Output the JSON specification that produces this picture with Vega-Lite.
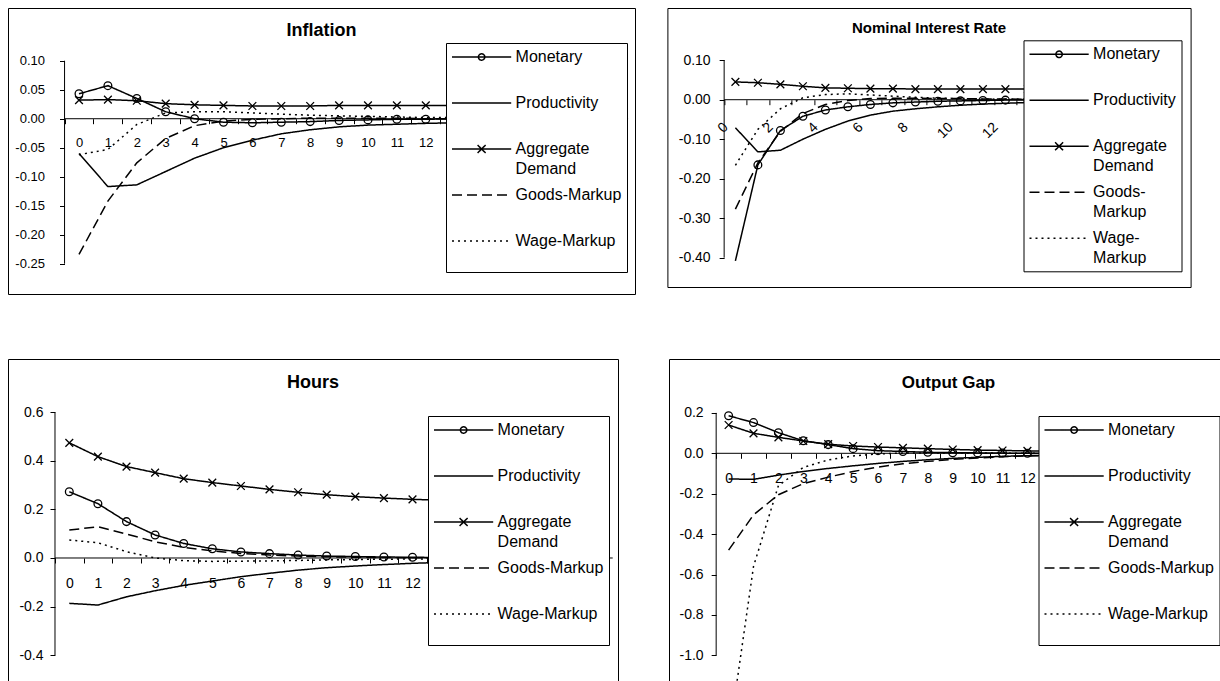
{
  "$schema": "https://vega.github.io/schema/vega-lite/v6.json",
  "background": "white",
  "padding": {"left": 7, "top": 7, "right": 0, "bottom": 0},
  "spacing": 63,
  "config": {
    "font": "Liberation Sans",
    "view": {"stroke": "black", "strokeWidth": 1},
    "axis": {"domain": false, "grid": false, "labelColor": "black", "labelFont": "Liberation Sans", "labelFontSize": 14, "tickColor": "black", "tickSize": 5, "tickWidth": 1, "labelOverlap": false, "labelFlush": false},
    "title": {"color": "black", "font": "Liberation Sans", "fontWeight": "bold", "anchor": "middle", "frame": "group", "baseline": "middle"},
    "legend": {"orient": "none", "fillColor": "white", "strokeColor": "black", "padding": 5, "gridAlign": "all", "rowPadding": 9, "symbolType": "M-3.7,0H3.7", "symbolSize": 256, "symbolStrokeWidth": 1.5, "symbolStrokeColor": "black", "symbolFillColor": "transparent", "symbolOffset": 21.6, "labelOffset": 25, "labelFont": "Liberation Sans", "labelFontSize": 16, "labelColor": "black", "labelLimit": 300}
  },
  "datasets": {
    "inflation": [
      {"t":0,"s":"Monetary","v":0.043},{"t":1,"s":"Monetary","v":0.057},{"t":2,"s":"Monetary","v":0.035},{"t":3,"s":"Monetary","v":0.012},{"t":4,"s":"Monetary","v":0.0},{"t":5,"s":"Monetary","v":-0.006},{"t":6,"s":"Monetary","v":-0.007},{"t":7,"s":"Monetary","v":-0.006},{"t":8,"s":"Monetary","v":-0.005},{"t":9,"s":"Monetary","v":-0.003},{"t":10,"s":"Monetary","v":-0.002},{"t":11,"s":"Monetary","v":-0.001},{"t":12,"s":"Monetary","v":-0.001},{"t":13,"s":"Monetary","v":0.0},{"t":14,"s":"Monetary","v":0.0},
      {"t":0,"s":"Productivity","v":-0.06},{"t":1,"s":"Productivity","v":-0.117},{"t":2,"s":"Productivity","v":-0.114},{"t":3,"s":"Productivity","v":-0.091},{"t":4,"s":"Productivity","v":-0.068},{"t":5,"s":"Productivity","v":-0.05},{"t":6,"s":"Productivity","v":-0.037},{"t":7,"s":"Productivity","v":-0.026},{"t":8,"s":"Productivity","v":-0.019},{"t":9,"s":"Productivity","v":-0.014},{"t":10,"s":"Productivity","v":-0.011},{"t":11,"s":"Productivity","v":-0.0095},{"t":12,"s":"Productivity","v":-0.008},{"t":13,"s":"Productivity","v":-0.007},{"t":14,"s":"Productivity","v":-0.006},
      {"t":0,"s":"Aggregate Demand","v":0.032},{"t":1,"s":"Aggregate Demand","v":0.033},{"t":2,"s":"Aggregate Demand","v":0.031},{"t":3,"s":"Aggregate Demand","v":0.026},{"t":4,"s":"Aggregate Demand","v":0.024},{"t":5,"s":"Aggregate Demand","v":0.023},{"t":6,"s":"Aggregate Demand","v":0.022},{"t":7,"s":"Aggregate Demand","v":0.022},{"t":8,"s":"Aggregate Demand","v":0.022},{"t":9,"s":"Aggregate Demand","v":0.023},{"t":10,"s":"Aggregate Demand","v":0.023},{"t":11,"s":"Aggregate Demand","v":0.023},{"t":12,"s":"Aggregate Demand","v":0.023},{"t":13,"s":"Aggregate Demand","v":0.023},{"t":14,"s":"Aggregate Demand","v":0.023},
      {"t":0,"s":"Goods-Markup","v":-0.234},{"t":1,"s":"Goods-Markup","v":-0.142},{"t":2,"s":"Goods-Markup","v":-0.076},{"t":3,"s":"Goods-Markup","v":-0.034},{"t":4,"s":"Goods-Markup","v":-0.012},{"t":5,"s":"Goods-Markup","v":-0.004},{"t":6,"s":"Goods-Markup","v":-0.001},{"t":7,"s":"Goods-Markup","v":0.0},{"t":8,"s":"Goods-Markup","v":0.001},{"t":9,"s":"Goods-Markup","v":0.001},{"t":10,"s":"Goods-Markup","v":0.001},{"t":11,"s":"Goods-Markup","v":0.001},{"t":12,"s":"Goods-Markup","v":0.0},{"t":13,"s":"Goods-Markup","v":0.0},{"t":14,"s":"Goods-Markup","v":0.0},
      {"t":0,"s":"Wage-Markup","v":-0.062},{"t":1,"s":"Wage-Markup","v":-0.053},{"t":2,"s":"Wage-Markup","v":-0.01},{"t":3,"s":"Wage-Markup","v":0.01},{"t":4,"s":"Wage-Markup","v":0.012},{"t":5,"s":"Wage-Markup","v":0.012},{"t":6,"s":"Wage-Markup","v":0.01},{"t":7,"s":"Wage-Markup","v":0.008},{"t":8,"s":"Wage-Markup","v":0.006},{"t":9,"s":"Wage-Markup","v":0.005},{"t":10,"s":"Wage-Markup","v":0.004},{"t":11,"s":"Wage-Markup","v":0.003},{"t":12,"s":"Wage-Markup","v":0.002},{"t":13,"s":"Wage-Markup","v":0.002},{"t":14,"s":"Wage-Markup","v":0.001}
    ],
    "nominal": [
      {"t":0,"s":"Monetary","v":-0.408},{"t":1,"s":"Monetary","v":-0.165},{"t":2,"s":"Monetary","v":-0.078},{"t":3,"s":"Monetary","v":-0.042},{"t":4,"s":"Monetary","v":-0.026},{"t":5,"s":"Monetary","v":-0.018},{"t":6,"s":"Monetary","v":-0.012},{"t":7,"s":"Monetary","v":-0.008},{"t":8,"s":"Monetary","v":-0.006},{"t":9,"s":"Monetary","v":-0.004},{"t":10,"s":"Monetary","v":-0.003},{"t":11,"s":"Monetary","v":-0.002},{"t":12,"s":"Monetary","v":-0.001},{"t":13,"s":"Monetary","v":-0.001},{"t":14,"s":"Monetary","v":-0.001},
      {"t":0,"s":"Productivity","v":-0.071},{"t":1,"s":"Productivity","v":-0.132},{"t":2,"s":"Productivity","v":-0.128},{"t":3,"s":"Productivity","v":-0.1},{"t":4,"s":"Productivity","v":-0.075},{"t":5,"s":"Productivity","v":-0.054},{"t":6,"s":"Productivity","v":-0.039},{"t":7,"s":"Productivity","v":-0.029},{"t":8,"s":"Productivity","v":-0.023},{"t":9,"s":"Productivity","v":-0.018},{"t":10,"s":"Productivity","v":-0.014},{"t":11,"s":"Productivity","v":-0.011},{"t":12,"s":"Productivity","v":-0.009},{"t":13,"s":"Productivity","v":-0.007},{"t":14,"s":"Productivity","v":-0.006},
      {"t":0,"s":"Aggregate Demand","v":0.045},{"t":1,"s":"Aggregate Demand","v":0.043},{"t":2,"s":"Aggregate Demand","v":0.039},{"t":3,"s":"Aggregate Demand","v":0.034},{"t":4,"s":"Aggregate Demand","v":0.03},{"t":5,"s":"Aggregate Demand","v":0.029},{"t":6,"s":"Aggregate Demand","v":0.028},{"t":7,"s":"Aggregate Demand","v":0.028},{"t":8,"s":"Aggregate Demand","v":0.027},{"t":9,"s":"Aggregate Demand","v":0.027},{"t":10,"s":"Aggregate Demand","v":0.027},{"t":11,"s":"Aggregate Demand","v":0.027},{"t":12,"s":"Aggregate Demand","v":0.027},{"t":13,"s":"Aggregate Demand","v":0.027},{"t":14,"s":"Aggregate Demand","v":0.027},
      {"t":0,"s":"Goods-Markup","v":-0.277},{"t":1,"s":"Goods-Markup","v":-0.16},{"t":2,"s":"Goods-Markup","v":-0.08},{"t":3,"s":"Goods-Markup","v":-0.035},{"t":4,"s":"Goods-Markup","v":-0.012},{"t":5,"s":"Goods-Markup","v":-0.002},{"t":6,"s":"Goods-Markup","v":0.003},{"t":7,"s":"Goods-Markup","v":0.004},{"t":8,"s":"Goods-Markup","v":0.004},{"t":9,"s":"Goods-Markup","v":0.003},{"t":10,"s":"Goods-Markup","v":0.003},{"t":11,"s":"Goods-Markup","v":0.002},{"t":12,"s":"Goods-Markup","v":0.002},{"t":13,"s":"Goods-Markup","v":0.001},{"t":14,"s":"Goods-Markup","v":0.001},
      {"t":0,"s":"Wage-Markup","v":-0.166},{"t":1,"s":"Wage-Markup","v":-0.075},{"t":2,"s":"Wage-Markup","v":-0.023},{"t":3,"s":"Wage-Markup","v":0.005},{"t":4,"s":"Wage-Markup","v":0.013},{"t":5,"s":"Wage-Markup","v":0.015},{"t":6,"s":"Wage-Markup","v":0.012},{"t":7,"s":"Wage-Markup","v":0.009},{"t":8,"s":"Wage-Markup","v":0.006},{"t":9,"s":"Wage-Markup","v":0.004},{"t":10,"s":"Wage-Markup","v":0.003},{"t":11,"s":"Wage-Markup","v":0.002},{"t":12,"s":"Wage-Markup","v":0.001},{"t":13,"s":"Wage-Markup","v":0.001},{"t":14,"s":"Wage-Markup","v":0.0}
    ],
    "hours": [
      {"t":0,"s":"Monetary","v":0.273},{"t":1,"s":"Monetary","v":0.224},{"t":2,"s":"Monetary","v":0.15},{"t":3,"s":"Monetary","v":0.095},{"t":4,"s":"Monetary","v":0.06},{"t":5,"s":"Monetary","v":0.038},{"t":6,"s":"Monetary","v":0.025},{"t":7,"s":"Monetary","v":0.018},{"t":8,"s":"Monetary","v":0.012},{"t":9,"s":"Monetary","v":0.008},{"t":10,"s":"Monetary","v":0.006},{"t":11,"s":"Monetary","v":0.004},{"t":12,"s":"Monetary","v":0.003},{"t":13,"s":"Monetary","v":0.002},{"t":14,"s":"Monetary","v":0.002},
      {"t":0,"s":"Productivity","v":-0.187},{"t":1,"s":"Productivity","v":-0.194},{"t":2,"s":"Productivity","v":-0.16},{"t":3,"s":"Productivity","v":-0.135},{"t":4,"s":"Productivity","v":-0.113},{"t":5,"s":"Productivity","v":-0.095},{"t":6,"s":"Productivity","v":-0.077},{"t":7,"s":"Productivity","v":-0.063},{"t":8,"s":"Productivity","v":-0.05},{"t":9,"s":"Productivity","v":-0.04},{"t":10,"s":"Productivity","v":-0.033},{"t":11,"s":"Productivity","v":-0.027},{"t":12,"s":"Productivity","v":-0.022},{"t":13,"s":"Productivity","v":-0.018},{"t":14,"s":"Productivity","v":-0.015},
      {"t":0,"s":"Aggregate Demand","v":0.475},{"t":1,"s":"Aggregate Demand","v":0.418},{"t":2,"s":"Aggregate Demand","v":0.377},{"t":3,"s":"Aggregate Demand","v":0.352},{"t":4,"s":"Aggregate Demand","v":0.327},{"t":5,"s":"Aggregate Demand","v":0.311},{"t":6,"s":"Aggregate Demand","v":0.297},{"t":7,"s":"Aggregate Demand","v":0.283},{"t":8,"s":"Aggregate Demand","v":0.271},{"t":9,"s":"Aggregate Demand","v":0.261},{"t":10,"s":"Aggregate Demand","v":0.253},{"t":11,"s":"Aggregate Demand","v":0.247},{"t":12,"s":"Aggregate Demand","v":0.242},{"t":13,"s":"Aggregate Demand","v":0.238},{"t":14,"s":"Aggregate Demand","v":0.234},
      {"t":0,"s":"Goods-Markup","v":0.115},{"t":1,"s":"Goods-Markup","v":0.129},{"t":2,"s":"Goods-Markup","v":0.099},{"t":3,"s":"Goods-Markup","v":0.067},{"t":4,"s":"Goods-Markup","v":0.044},{"t":5,"s":"Goods-Markup","v":0.029},{"t":6,"s":"Goods-Markup","v":0.019},{"t":7,"s":"Goods-Markup","v":0.012},{"t":8,"s":"Goods-Markup","v":0.008},{"t":9,"s":"Goods-Markup","v":0.005},{"t":10,"s":"Goods-Markup","v":0.003},{"t":11,"s":"Goods-Markup","v":0.002},{"t":12,"s":"Goods-Markup","v":0.001},{"t":13,"s":"Goods-Markup","v":0.001},{"t":14,"s":"Goods-Markup","v":0.0},
      {"t":0,"s":"Wage-Markup","v":0.074},{"t":1,"s":"Wage-Markup","v":0.063},{"t":2,"s":"Wage-Markup","v":0.026},{"t":3,"s":"Wage-Markup","v":0.0},{"t":4,"s":"Wage-Markup","v":-0.011},{"t":5,"s":"Wage-Markup","v":-0.014},{"t":6,"s":"Wage-Markup","v":-0.013},{"t":7,"s":"Wage-Markup","v":-0.012},{"t":8,"s":"Wage-Markup","v":-0.01},{"t":9,"s":"Wage-Markup","v":-0.008},{"t":10,"s":"Wage-Markup","v":-0.006},{"t":11,"s":"Wage-Markup","v":-0.005},{"t":12,"s":"Wage-Markup","v":-0.004},{"t":13,"s":"Wage-Markup","v":-0.003},{"t":14,"s":"Wage-Markup","v":-0.002}
    ],
    "gap": [
      {"t":0,"s":"Monetary","v":0.186},{"t":1,"s":"Monetary","v":0.152},{"t":2,"s":"Monetary","v":0.102},{"t":3,"s":"Monetary","v":0.062},{"t":4,"s":"Monetary","v":0.043},{"t":5,"s":"Monetary","v":0.023},{"t":6,"s":"Monetary","v":0.013},{"t":7,"s":"Monetary","v":0.009},{"t":8,"s":"Monetary","v":0.005},{"t":9,"s":"Monetary","v":0.003},{"t":10,"s":"Monetary","v":0.002},{"t":11,"s":"Monetary","v":0.001},{"t":12,"s":"Monetary","v":0.0},{"t":13,"s":"Monetary","v":0.0},{"t":14,"s":"Monetary","v":0.0},
      {"t":0,"s":"Productivity","v":-0.127},{"t":1,"s":"Productivity","v":-0.129},{"t":2,"s":"Productivity","v":-0.108},{"t":3,"s":"Productivity","v":-0.09},{"t":4,"s":"Productivity","v":-0.075},{"t":5,"s":"Productivity","v":-0.062},{"t":6,"s":"Productivity","v":-0.05},{"t":7,"s":"Productivity","v":-0.04},{"t":8,"s":"Productivity","v":-0.032},{"t":9,"s":"Productivity","v":-0.025},{"t":10,"s":"Productivity","v":-0.02},{"t":11,"s":"Productivity","v":-0.015},{"t":12,"s":"Productivity","v":-0.012},{"t":13,"s":"Productivity","v":-0.009},{"t":14,"s":"Productivity","v":-0.007},
      {"t":0,"s":"Aggregate Demand","v":0.14},{"t":1,"s":"Aggregate Demand","v":0.099},{"t":2,"s":"Aggregate Demand","v":0.079},{"t":3,"s":"Aggregate Demand","v":0.061},{"t":4,"s":"Aggregate Demand","v":0.045},{"t":5,"s":"Aggregate Demand","v":0.036},{"t":6,"s":"Aggregate Demand","v":0.031},{"t":7,"s":"Aggregate Demand","v":0.027},{"t":8,"s":"Aggregate Demand","v":0.023},{"t":9,"s":"Aggregate Demand","v":0.019},{"t":10,"s":"Aggregate Demand","v":0.016},{"t":11,"s":"Aggregate Demand","v":0.014},{"t":12,"s":"Aggregate Demand","v":0.012},{"t":13,"s":"Aggregate Demand","v":0.01},{"t":14,"s":"Aggregate Demand","v":0.009},
      {"t":0,"s":"Goods-Markup","v":-0.479},{"t":1,"s":"Goods-Markup","v":-0.305},{"t":2,"s":"Goods-Markup","v":-0.205},{"t":3,"s":"Goods-Markup","v":-0.15},{"t":4,"s":"Goods-Markup","v":-0.118},{"t":5,"s":"Goods-Markup","v":-0.09},{"t":6,"s":"Goods-Markup","v":-0.068},{"t":7,"s":"Goods-Markup","v":-0.052},{"t":8,"s":"Goods-Markup","v":-0.04},{"t":9,"s":"Goods-Markup","v":-0.03},{"t":10,"s":"Goods-Markup","v":-0.023},{"t":11,"s":"Goods-Markup","v":-0.017},{"t":12,"s":"Goods-Markup","v":-0.013},{"t":13,"s":"Goods-Markup","v":-0.01},{"t":14,"s":"Goods-Markup","v":-0.008},
      {"t":0,"s":"Wage-Markup","v":-1.42},{"t":1,"s":"Wage-Markup","v":-0.56},{"t":2,"s":"Wage-Markup","v":-0.16},{"t":3,"s":"Wage-Markup","v":-0.07},{"t":4,"s":"Wage-Markup","v":-0.033},{"t":5,"s":"Wage-Markup","v":-0.013},{"t":6,"s":"Wage-Markup","v":-0.003},{"t":7,"s":"Wage-Markup","v":0.001},{"t":8,"s":"Wage-Markup","v":0.002},{"t":9,"s":"Wage-Markup","v":0.002},{"t":10,"s":"Wage-Markup","v":0.001},{"t":11,"s":"Wage-Markup","v":0.001},{"t":12,"s":"Wage-Markup","v":0.0},{"t":13,"s":"Wage-Markup","v":0.0},{"t":14,"s":"Wage-Markup","v":0.0}
    ]
  },
  "resolve": {"scale": {"x": "independent", "y": "independent", "strokeDash": "independent", "shape": "independent"}, "legend": {"strokeDash": "independent", "shape": "independent"}},
  "vconcat": [
    {
      "hconcat": [
        {
          "width": 627, "height": 286,
          "title": {"text": "Inflation", "fontSize": 18, "offset": -32},
          "layer": [
            {"data": {"values": [{}]}, "mark": {"type": "rule", "color": "black", "strokeWidth": 1},
             "encoding": {
               "x": {"datum": -0.5, "type": "quantitative", "scale": {"domain": [-2.457, 19.24], "nice": false, "zero": false},
                     "axis": {"title": null, "orient": "bottom", "offset": -175.3, "values": [0,1,2,3,4,5,6,7,8,9,10,11,12,13], "tickOffset": -14.45, "labelOffset": 14.45, "labelPadding": 13, "labelFontSize": 13, "labelOverlap": false}},
               "y": {"datum": -0.25, "type": "quantitative", "scale": {"domain": [-0.3022, 0.1909], "nice": false, "zero": false},
                     "axis": {"title": null, "orient": "left", "offset": -56.5, "values": [-0.25,-0.2,-0.15,-0.1,-0.05,0,0.05,0.1], "labelExpr": "(datum.value < 0 ? '-' : '') + format(abs(datum.value), '.2f')", "labelPadding": 15, "labelFontSize": 13, "labelOverlap": false}},
               "y2": {"datum": 0.1}}},
            {"data": {"values": [{}]}, "mark": {"type": "rule", "color": "black", "strokeWidth": 1},
             "encoding": {
               "x": {"datum": -0.5, "type": "quantitative", "scale": {"domain": [-2.457, 19.24], "nice": false, "zero": false},
                     "axis": {"title": null, "orient": "bottom", "offset": -175.3, "values": [0,1,2,3,4,5,6,7,8,9,10,11,12,13], "tickOffset": -14.45, "labelOffset": 14.45, "labelPadding": 13, "labelFontSize": 13, "labelOverlap": false}},
               "x2": {"datum": 19},
               "y": {"datum": 0, "type": "quantitative", "scale": {"domain": [-0.3022, 0.1909], "nice": false, "zero": false},
                     "axis": {"title": null, "orient": "left", "offset": -56.5, "values": [-0.25,-0.2,-0.15,-0.1,-0.05,0,0.05,0.1], "labelExpr": "(datum.value < 0 ? '-' : '') + format(abs(datum.value), '.2f')", "labelPadding": 15, "labelFontSize": 13, "labelOverlap": false}}}},
            {"data": {"name": "inflation"}, "mark": {"type": "line", "color": "black", "strokeWidth": 1.5, "clip": true},
             "encoding": {
               "x": {"field": "t", "type": "quantitative", "scale": {"domain": [-2.457, 19.24], "nice": false, "zero": false},
                     "axis": {"title": null, "orient": "bottom", "offset": -175.3, "values": [0,1,2,3,4,5,6,7,8,9,10,11,12,13], "tickOffset": -14.45, "labelOffset": 14.45, "labelPadding": 13, "labelFontSize": 13, "labelOverlap": false}},
               "y": {"field": "v", "type": "quantitative", "scale": {"domain": [-0.3022, 0.1909], "nice": false, "zero": false},
                     "axis": {"title": null, "orient": "left", "offset": -56.5, "values": [-0.25,-0.2,-0.15,-0.1,-0.05,0,0.05,0.1], "labelExpr": "(datum.value < 0 ? '-' : '') + format(abs(datum.value), '.2f')", "labelPadding": 15, "labelFontSize": 13, "labelOverlap": false}},
               "strokeDash": {"field": "s", "type": "nominal",
                 "scale": {"domain": ["Monetary", "Productivity", "Aggregate Demand", "Goods-Markup", "Wage-Markup"], "range": [[1,0],[1,0],[1,0],[10,5],[2,4]]},
                 "legend": {"title": " ", "titleOrient": "bottom", "titleFontSize": 10, "titlePadding": 8, "legendX": 438, "legendY": 35,
                   "labelExpr": "datum.value === 'Aggregate Demand' ? ['Aggregate', 'Demand'] : datum.label",
                   "encode": {
                     "symbols": {"update": {"shape": {"signal": "datum.value === 'Monetary' ? 'M-3.7,0H3.7M-0.4,0A0.4,0.4,0,1,1,0.4,0A0.4,0.4,0,1,1,-0.4,0' : datum.value === 'Aggregate Demand' ? 'M-3.7,0H3.7M-0.5,-0.5L0.5,0.5M-0.5,0.5L0.5,-0.5' : 'M-3.7,0H3.7'"}}},
                     "labels": {"update": {"lineHeight": {"value": 20}}}
                   }}}}},
            {"data": {"name": "inflation"},
             "transform": [{"filter": {"field": "s", "oneOf": ["Monetary", "Aggregate Demand"]}}],
             "mark": {"type": "point", "filled": false, "color": "black", "strokeWidth": 1.3, "opacity": 1, "clip": true},
             "encoding": {
               "x": {"field": "t", "type": "quantitative", "scale": {"domain": [-2.457, 19.24], "nice": false, "zero": false},
                     "axis": {"title": null, "orient": "bottom", "offset": -175.3, "values": [0,1,2,3,4,5,6,7,8,9,10,11,12,13], "tickOffset": -14.45, "labelOffset": 14.45, "labelPadding": 13, "labelFontSize": 13, "labelOverlap": false}},
               "y": {"field": "v", "type": "quantitative", "scale": {"domain": [-0.3022, 0.1909], "nice": false, "zero": false},
                     "axis": {"title": null, "orient": "left", "offset": -56.5, "values": [-0.25,-0.2,-0.15,-0.1,-0.05,0,0.05,0.1], "labelExpr": "(datum.value < 0 ? '-' : '') + format(abs(datum.value), '.2f')", "labelPadding": 15, "labelFontSize": 13, "labelOverlap": false}},
               "shape": {"field": "s", "type": "nominal", "scale": {"domain": ["Monetary", "Aggregate Demand"], "range": ["circle", "M-1,-1L1,1M-1,1L1,-1"]}, "legend": null}, "size": {"value": 60}}}
          ]
        },
        {
          "width": 523.2, "height": 279,
          "title": {"text": "Nominal Interest Rate", "fontSize": 15, "offset": -28},
          "layer": [
            {"data": {"values": [{}]}, "mark": {"type": "rule", "color": "black", "strokeWidth": 1},
             "encoding": {
               "x": {"datum": -0.5, "type": "quantitative", "scale": {"domain": [-3.022, 20.231], "nice": false, "zero": false},
                     "axis": {"title": null, "orient": "bottom", "offset": -187.3, "values": [0,1,2,3,4,5,6,7,8,9,10,11,12,13], "tickOffset": -11.25, "labelOffset": 1.35, "labelPadding": 20, "labelAngle": -45, "labelAlign": "right", "labelBaseline": "middle", "labelExpr": "datum.value % 2 === 0 ? datum.label : ''", "labelOverlap": false}},
               "y": {"datum": -0.4, "type": "quantitative", "scale": {"domain": [-0.4742, 0.2322], "nice": false, "zero": false},
                     "axis": {"title": null, "orient": "left", "offset": -56.75, "values": [-0.4,-0.3,-0.2,-0.1,0,0.1], "labelExpr": "(datum.value < 0 ? '-' : '') + format(abs(datum.value), '.2f')", "labelPadding": 9, "labelOverlap": false}},
               "y2": {"datum": 0.1}}},
            {"data": {"values": [{}]}, "mark": {"type": "rule", "color": "black", "strokeWidth": 1},
             "encoding": {
               "x": {"datum": -0.5, "type": "quantitative", "scale": {"domain": [-3.022, 20.231], "nice": false, "zero": false},
                     "axis": {"title": null, "orient": "bottom", "offset": -187.3, "values": [0,1,2,3,4,5,6,7,8,9,10,11,12,13], "tickOffset": -11.25, "labelOffset": 1.35, "labelPadding": 20, "labelAngle": -45, "labelAlign": "right", "labelBaseline": "middle", "labelExpr": "datum.value % 2 === 0 ? datum.label : ''", "labelOverlap": false}},
               "x2": {"datum": 19},
               "y": {"datum": 0, "type": "quantitative", "scale": {"domain": [-0.4742, 0.2322], "nice": false, "zero": false},
                     "axis": {"title": null, "orient": "left", "offset": -56.75, "values": [-0.4,-0.3,-0.2,-0.1,0,0.1], "labelExpr": "(datum.value < 0 ? '-' : '') + format(abs(datum.value), '.2f')", "labelPadding": 9, "labelOverlap": false}}}},
            {"data": {"name": "nominal"}, "mark": {"type": "line", "color": "black", "strokeWidth": 1.5, "clip": true},
             "encoding": {
               "x": {"field": "t", "type": "quantitative", "scale": {"domain": [-3.022, 20.231], "nice": false, "zero": false},
                     "axis": {"title": null, "orient": "bottom", "offset": -187.3, "values": [0,1,2,3,4,5,6,7,8,9,10,11,12,13], "tickOffset": -11.25, "labelOffset": 1.35, "labelPadding": 20, "labelAngle": -45, "labelAlign": "right", "labelBaseline": "middle", "labelExpr": "datum.value % 2 === 0 ? datum.label : ''", "labelOverlap": false}},
               "y": {"field": "v", "type": "quantitative", "scale": {"domain": [-0.4742, 0.2322], "nice": false, "zero": false},
                     "axis": {"title": null, "orient": "left", "offset": -56.75, "values": [-0.4,-0.3,-0.2,-0.1,0,0.1], "labelExpr": "(datum.value < 0 ? '-' : '') + format(abs(datum.value), '.2f')", "labelPadding": 9, "labelOverlap": false}},
               "strokeDash": {"field": "s", "type": "nominal",
                 "scale": {"domain": ["Monetary", "Productivity", "Aggregate Demand", "Goods-Markup", "Wage-Markup"], "range": [[1,0],[1,0],[1,0],[10,5],[2,4]]},
                 "legend": {"title": null, "legendX": 356.1, "legendY": 32.3,
                   "labelExpr": "datum.value === 'Aggregate Demand' ? ['Aggregate', 'Demand'] : datum.value === 'Goods-Markup' ? ['Goods-', 'Markup'] : datum.value === 'Wage-Markup' ? ['Wage-', 'Markup'] : datum.label",
                   "encode": {
                     "symbols": {"update": {"shape": {"signal": "datum.value === 'Monetary' ? 'M-3.7,0H3.7M-0.4,0A0.4,0.4,0,1,1,0.4,0A0.4,0.4,0,1,1,-0.4,0' : datum.value === 'Aggregate Demand' ? 'M-3.7,0H3.7M-0.5,-0.5L0.5,0.5M-0.5,0.5L0.5,-0.5' : 'M-3.7,0H3.7'"}}},
                     "labels": {"update": {"lineHeight": {"value": 20}}}
                   }}}}},
            {"data": {"name": "nominal"},
             "transform": [{"filter": {"field": "s", "oneOf": ["Monetary", "Aggregate Demand"]}}, {"filter": "datum.v >= -0.4"}],
             "mark": {"type": "point", "filled": false, "color": "black", "strokeWidth": 1.3, "opacity": 1, "clip": true},
             "encoding": {
               "x": {"field": "t", "type": "quantitative", "scale": {"domain": [-3.022, 20.231], "nice": false, "zero": false},
                     "axis": {"title": null, "orient": "bottom", "offset": -187.3, "values": [0,1,2,3,4,5,6,7,8,9,10,11,12,13], "tickOffset": -11.25, "labelOffset": 1.35, "labelPadding": 20, "labelAngle": -45, "labelAlign": "right", "labelBaseline": "middle", "labelExpr": "datum.value % 2 === 0 ? datum.label : ''", "labelOverlap": false}},
               "y": {"field": "v", "type": "quantitative", "scale": {"domain": [-0.4742, 0.2322], "nice": false, "zero": false},
                     "axis": {"title": null, "orient": "left", "offset": -56.75, "values": [-0.4,-0.3,-0.2,-0.1,0,0.1], "labelExpr": "(datum.value < 0 ? '-' : '') + format(abs(datum.value), '.2f')", "labelPadding": 9, "labelOverlap": false}},
               "shape": {"field": "s", "type": "nominal", "scale": {"domain": ["Monetary", "Aggregate Demand"], "range": ["circle", "M-1,-1L1,1M-1,1L1,-1"]}, "legend": null}, "size": {"value": 60}}}
          ]
        }
      ],
      "spacing": 32.4,
      "bounds": "flush",
      "resolve": {"scale": {"x": "independent", "y": "independent", "strokeDash": "independent", "shape": "independent"}, "legend": {"strokeDash": "independent", "shape": "independent"}}
    },
    {
      "hconcat": [
        {
          "width": 610, "height": 330,
          "title": {"text": "Hours", "fontSize": 18, "offset": -32.7},
          "layer": [
            {"data": {"values": [{}]}, "mark": {"type": "rule", "color": "black", "strokeWidth": 1},
             "encoding": {
               "x": {"datum": -0.5, "type": "quantitative", "scale": {"domain": [-2.143, 19.185], "nice": false, "zero": false},
                     "axis": {"title": null, "orient": "bottom", "offset": -131, "values": [0,1,2,3,4,5,6,7,8,9,10,11,12,13], "tickOffset": -14.3, "labelOffset": 14.3, "labelPadding": 13, "labelOverlap": false}},
               "y": {"datum": -0.4, "type": "quantitative", "scale": {"domain": [-0.5402, 0.8206], "nice": false, "zero": false},
                     "axis": {"title": null, "orient": "left", "offset": -47, "values": [-0.4,-0.2,0,0.2,0.4,0.6], "labelExpr": "(datum.value < 0 ? '-' : '') + format(abs(datum.value), '.1f')", "labelPadding": 7, "labelOverlap": false}},
               "y2": {"datum": 0.6}}},
            {"data": {"values": [{}]}, "mark": {"type": "rule", "color": "black", "strokeWidth": 1},
             "encoding": {
               "x": {"datum": -0.5, "type": "quantitative", "scale": {"domain": [-2.143, 19.185], "nice": false, "zero": false},
                     "axis": {"title": null, "orient": "bottom", "offset": -131, "values": [0,1,2,3,4,5,6,7,8,9,10,11,12,13], "tickOffset": -14.3, "labelOffset": 14.3, "labelPadding": 13, "labelOverlap": false}},
               "x2": {"datum": 19},
               "y": {"datum": 0, "type": "quantitative", "scale": {"domain": [-0.5402, 0.8206], "nice": false, "zero": false},
                     "axis": {"title": null, "orient": "left", "offset": -47, "values": [-0.4,-0.2,0,0.2,0.4,0.6], "labelExpr": "(datum.value < 0 ? '-' : '') + format(abs(datum.value), '.1f')", "labelPadding": 7, "labelOverlap": false}}}},
            {"data": {"name": "hours"}, "mark": {"type": "line", "color": "black", "strokeWidth": 1.5, "clip": true},
             "encoding": {
               "x": {"field": "t", "type": "quantitative", "scale": {"domain": [-2.143, 19.185], "nice": false, "zero": false},
                     "axis": {"title": null, "orient": "bottom", "offset": -131, "values": [0,1,2,3,4,5,6,7,8,9,10,11,12,13], "tickOffset": -14.3, "labelOffset": 14.3, "labelPadding": 13, "labelOverlap": false}},
               "y": {"field": "v", "type": "quantitative", "scale": {"domain": [-0.5402, 0.8206], "nice": false, "zero": false},
                     "axis": {"title": null, "orient": "left", "offset": -47, "values": [-0.4,-0.2,0,0.2,0.4,0.6], "labelExpr": "(datum.value < 0 ? '-' : '') + format(abs(datum.value), '.1f')", "labelPadding": 7, "labelOverlap": false}},
               "strokeDash": {"field": "s", "type": "nominal",
                 "scale": {"domain": ["Monetary", "Productivity", "Aggregate Demand", "Goods-Markup", "Wage-Markup"], "range": [[1,0],[1,0],[1,0],[10,5],[2,4]]},
                 "legend": {"title": " ", "titleOrient": "bottom", "titleFontSize": 10, "titlePadding": 8, "legendX": 420, "legendY": 57,
                   "labelExpr": "datum.value === 'Aggregate Demand' ? ['Aggregate', 'Demand'] : datum.label",
                   "encode": {
                     "symbols": {"update": {"shape": {"signal": "datum.value === 'Monetary' ? 'M-3.7,0H3.7M-0.4,0A0.4,0.4,0,1,1,0.4,0A0.4,0.4,0,1,1,-0.4,0' : datum.value === 'Aggregate Demand' ? 'M-3.7,0H3.7M-0.5,-0.5L0.5,0.5M-0.5,0.5L0.5,-0.5' : 'M-3.7,0H3.7'"}}},
                     "labels": {"update": {"lineHeight": {"value": 20}}}
                   }}}}},
            {"data": {"name": "hours"},
             "transform": [{"filter": {"field": "s", "oneOf": ["Monetary", "Aggregate Demand"]}}],
             "mark": {"type": "point", "filled": false, "color": "black", "strokeWidth": 1.3, "opacity": 1, "clip": true},
             "encoding": {
               "x": {"field": "t", "type": "quantitative", "scale": {"domain": [-2.143, 19.185], "nice": false, "zero": false},
                     "axis": {"title": null, "orient": "bottom", "offset": -131, "values": [0,1,2,3,4,5,6,7,8,9,10,11,12,13], "tickOffset": -14.3, "labelOffset": 14.3, "labelPadding": 13, "labelOverlap": false}},
               "y": {"field": "v", "type": "quantitative", "scale": {"domain": [-0.5402, 0.8206], "nice": false, "zero": false},
                     "axis": {"title": null, "orient": "left", "offset": -47, "values": [-0.4,-0.2,0,0.2,0.4,0.6], "labelExpr": "(datum.value < 0 ? '-' : '') + format(abs(datum.value), '.1f')", "labelPadding": 7, "labelOverlap": false}},
               "shape": {"field": "s", "type": "nominal", "scale": {"domain": ["Monetary", "Aggregate Demand"], "range": ["circle", "M-1,-1L1,1M-1,1L1,-1"]}, "legend": null}, "size": {"value": 60}}}
          ]
        },
        {
          "width": 559, "height": 330,
          "title": {"text": "Output Gap", "fontSize": 17, "offset": -32.5},
          "layer": [
            {"data": {"values": [{}]}, "mark": {"type": "rule", "color": "black", "strokeWidth": 1},
             "encoding": {
               "x": {"datum": -0.5, "type": "quantitative", "scale": {"domain": [-2.394, 20.056], "nice": false, "zero": false},
                     "axis": {"title": null, "orient": "bottom", "offset": -235.7, "values": [0,1,2,3,4,5,6,7,8,9,10,11,12,13], "tickOffset": -12.45, "labelOffset": 12.45, "labelPadding": 13, "labelOverlap": false}},
               "y": {"datum": -1, "type": "quantitative", "scale": {"domain": [-1.1668, 0.4668], "nice": false, "zero": false},
                     "axis": {"title": null, "orient": "left", "offset": -47.15, "values": [-1,-0.8,-0.6,-0.4,-0.2,0,0.2], "labelExpr": "(datum.value < 0 ? '-' : '') + format(abs(datum.value), '.1f')", "labelPadding": 8, "labelOverlap": false}},
               "y2": {"datum": 0.2}}},
            {"data": {"values": [{}]}, "mark": {"type": "rule", "color": "black", "strokeWidth": 1},
             "encoding": {
               "x": {"datum": -0.5, "type": "quantitative", "scale": {"domain": [-2.394, 20.056], "nice": false, "zero": false},
                     "axis": {"title": null, "orient": "bottom", "offset": -235.7, "values": [0,1,2,3,4,5,6,7,8,9,10,11,12,13], "tickOffset": -12.45, "labelOffset": 12.45, "labelPadding": 13, "labelOverlap": false}},
               "x2": {"datum": 19},
               "y": {"datum": 0, "type": "quantitative", "scale": {"domain": [-1.1668, 0.4668], "nice": false, "zero": false},
                     "axis": {"title": null, "orient": "left", "offset": -47.15, "values": [-1,-0.8,-0.6,-0.4,-0.2,0,0.2], "labelExpr": "(datum.value < 0 ? '-' : '') + format(abs(datum.value), '.1f')", "labelPadding": 8, "labelOverlap": false}}}},
            {"data": {"name": "gap"}, "mark": {"type": "line", "color": "black", "strokeWidth": 1.5, "clip": true},
             "encoding": {
               "x": {"field": "t", "type": "quantitative", "scale": {"domain": [-2.394, 20.056], "nice": false, "zero": false},
                     "axis": {"title": null, "orient": "bottom", "offset": -235.7, "values": [0,1,2,3,4,5,6,7,8,9,10,11,12,13], "tickOffset": -12.45, "labelOffset": 12.45, "labelPadding": 13, "labelOverlap": false}},
               "y": {"field": "v", "type": "quantitative", "scale": {"domain": [-1.1668, 0.4668], "nice": false, "zero": false},
                     "axis": {"title": null, "orient": "left", "offset": -47.15, "values": [-1,-0.8,-0.6,-0.4,-0.2,0,0.2], "labelExpr": "(datum.value < 0 ? '-' : '') + format(abs(datum.value), '.1f')", "labelPadding": 8, "labelOverlap": false}},
               "strokeDash": {"field": "s", "type": "nominal",
                 "scale": {"domain": ["Monetary", "Productivity", "Aggregate Demand", "Goods-Markup", "Wage-Markup"], "range": [[1,0],[1,0],[1,0],[10,5],[2,4]]},
                 "legend": {"title": " ", "titleOrient": "bottom", "titleFontSize": 10, "titlePadding": 8, "legendX": 369.5, "legendY": 57,
                   "labelExpr": "datum.value === 'Aggregate Demand' ? ['Aggregate', 'Demand'] : datum.label",
                   "encode": {
                     "symbols": {"update": {"shape": {"signal": "datum.value === 'Monetary' ? 'M-3.7,0H3.7M-0.4,0A0.4,0.4,0,1,1,0.4,0A0.4,0.4,0,1,1,-0.4,0' : datum.value === 'Aggregate Demand' ? 'M-3.7,0H3.7M-0.5,-0.5L0.5,0.5M-0.5,0.5L0.5,-0.5' : 'M-3.7,0H3.7'"}}},
                     "labels": {"update": {"lineHeight": {"value": 20}}}
                   }}}}},
            {"data": {"name": "gap"},
             "transform": [{"filter": {"field": "s", "oneOf": ["Monetary", "Aggregate Demand"]}}],
             "mark": {"type": "point", "filled": false, "color": "black", "strokeWidth": 1.3, "opacity": 1, "clip": true},
             "encoding": {
               "x": {"field": "t", "type": "quantitative", "scale": {"domain": [-2.394, 20.056], "nice": false, "zero": false},
                     "axis": {"title": null, "orient": "bottom", "offset": -235.7, "values": [0,1,2,3,4,5,6,7,8,9,10,11,12,13], "tickOffset": -12.45, "labelOffset": 12.45, "labelPadding": 13, "labelOverlap": false}},
               "y": {"field": "v", "type": "quantitative", "scale": {"domain": [-1.1668, 0.4668], "nice": false, "zero": false},
                     "axis": {"title": null, "orient": "left", "offset": -47.15, "values": [-1,-0.8,-0.6,-0.4,-0.2,0,0.2], "labelExpr": "(datum.value < 0 ? '-' : '') + format(abs(datum.value), '.1f')", "labelPadding": 8, "labelOverlap": false}},
               "shape": {"field": "s", "type": "nominal", "scale": {"domain": ["Monetary", "Aggregate Demand"], "range": ["circle", "M-1,-1L1,1M-1,1L1,-1"]}, "legend": null}, "size": {"value": 60}}}
          ]
        }
      ],
      "spacing": 51,
      "bounds": "flush",
      "resolve": {"scale": {"x": "independent", "y": "independent", "strokeDash": "independent", "shape": "independent"}, "legend": {"strokeDash": "independent", "shape": "independent"}}
    }
  ]
}
